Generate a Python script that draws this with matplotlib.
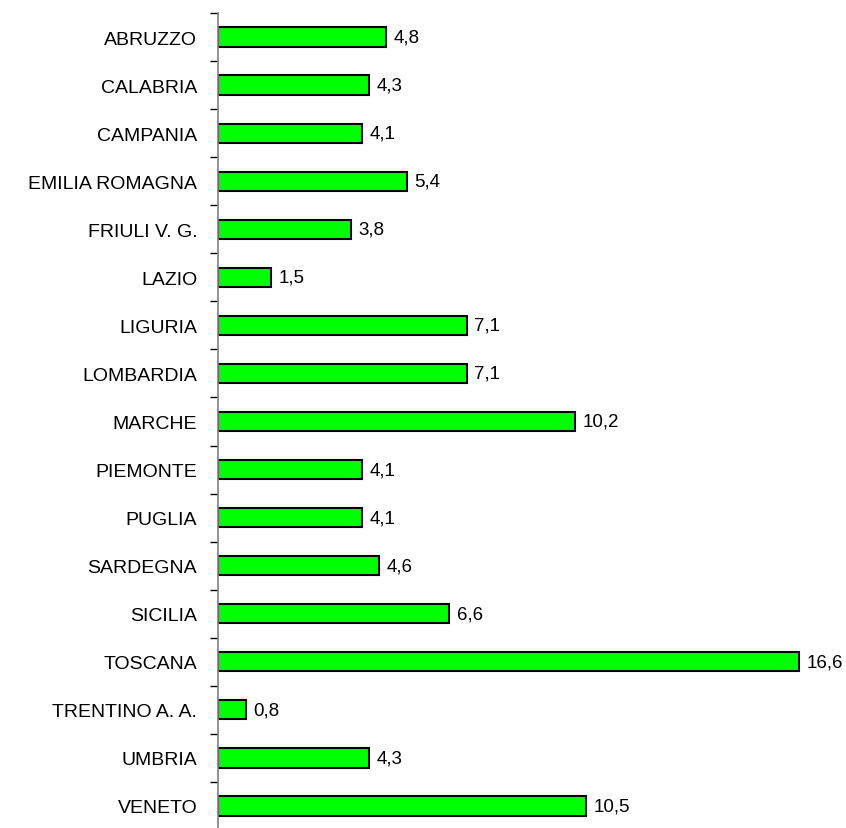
import numpy as np
import matplotlib.pyplot as plt
from matplotlib.ticker import FixedLocator, NullFormatter

regioni = ['ABRUZZO', 'CALABRIA', 'CAMPANIA', 'EMILIA ROMAGNA', 'FRIULI V. G.',
           'LAZIO', 'LIGURIA', 'LOMBARDIA', 'MARCHE', 'PIEMONTE', 'PUGLIA',
           'SARDEGNA', 'SICILIA', 'TOSCANA', 'TRENTINO A. A.', 'UMBRIA', 'VENETO']
valori = [4.8, 4.3, 4.1, 5.4, 3.8, 1.5, 7.1, 7.1, 10.2, 4.1, 4.1, 4.6, 6.6,
          16.6, 0.8, 4.3, 10.5]

plt.rcParams['font.family'] = ['Liberation Sans', 'DejaVu Sans']

fig = plt.figure(figsize=(8.46, 8.29), dpi=100)
ax = fig.add_axes([218 / 846, -2 / 829, 0.98 - 218 / 846, (829 - 14 + 2) / 829])

y = np.arange(len(regioni))
ax.barh(y, valori, height=0.4, color='#00ff00', edgecolor='black', linewidth=1.5)

for yi, v in zip(y, valori):
    ax.text(v + 0.22, yi, f'{v:.1f}'.replace('.', ','), va='center', ha='left',
            fontsize=13.5)

ax.set_ylim(len(regioni) - 0.5, -0.5)
ax.set_xlim(0, (0.98 * 846 - 218) / 35.0)

ax.set_yticks(y)
ax.set_yticklabels(regioni, fontsize=14)
ax.tick_params(axis='y', which='major', length=0, pad=15)
ax.yaxis.set_minor_locator(FixedLocator(np.arange(-0.5, len(regioni), 1)))
ax.yaxis.set_minor_formatter(NullFormatter())
ax.tick_params(axis='y', which='minor', length=6, width=1, color='black')

for s in ['top', 'right', 'bottom']:
    ax.spines[s].set_visible(False)
ax.spines['left'].set_color('#808080')
ax.spines['left'].set_linewidth(1.2)
ax.set_xticks([])

fig.savefig('out.png', dpi=100)
